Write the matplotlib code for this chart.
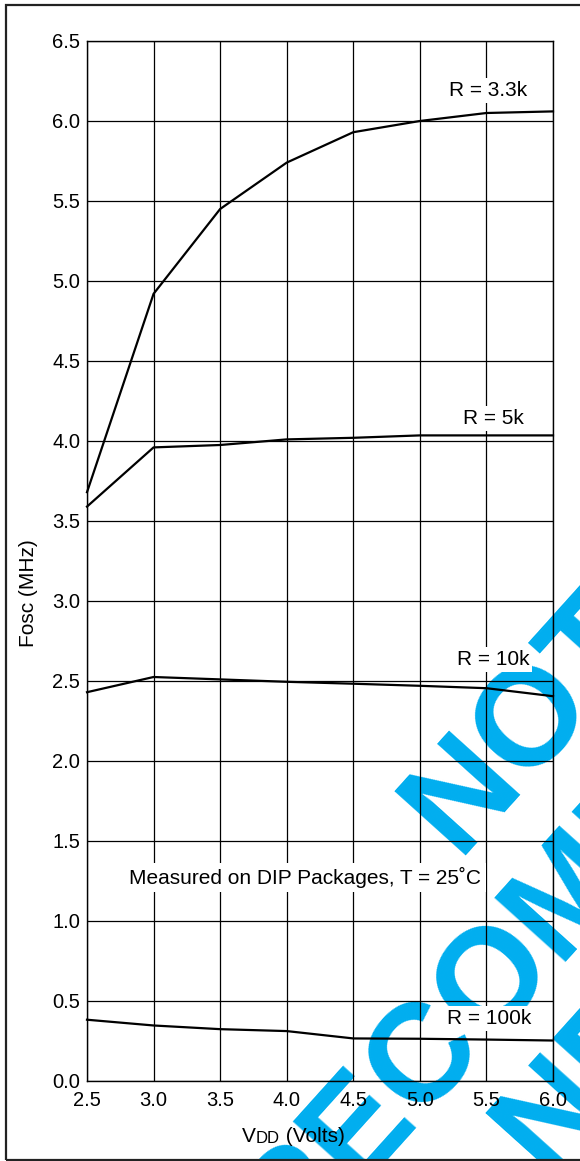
import numpy as np
import matplotlib
matplotlib.use('Agg')
import matplotlib.pyplot as plt
from matplotlib.patches import Rectangle

plt.rcParams['font.family'] = ['Liberation Sans', 'DejaVu Sans']

# data
vdd = [2.5, 3.0, 3.5, 4.0, 4.5, 5.0, 5.5, 6.0]
fosc_3k3 = [3.68, 4.92, 5.45, 5.74, 5.93, 6.00, 6.05, 6.06]
fosc_5k = [3.59, 3.96, 3.975, 4.01, 4.02, 4.035, 4.035, 4.035]
fosc_10k = [2.43, 2.525, 2.51, 2.495, 2.483, 2.47, 2.455, 2.405]
fosc_100k = [0.383, 0.347, 0.324, 0.312, 0.266, 0.264, 0.259, 0.253]
curves = [fosc_3k3, fosc_5k, fosc_10k, fosc_100k]
curve_labels = ['R = 3.3k', 'R = 5k', 'R = 10k', 'R = 100k']
label_x = [5.51, 5.55, 5.55, 5.52]
label_y = [6.19, 4.14, 2.635, 0.39]
yticks = [0.0, 0.5, 1.0, 1.5, 2.0, 2.5, 3.0, 3.5, 4.0, 4.5, 5.0, 5.5, 6.0, 6.5]
note = 'Measured on DIP Packages, T = 25˚C'
watermark = ['NOT', 'RECOMMENDED', 'FOR NEW DESIGNS']

W, H = 580, 1161
fig = plt.figure(figsize=(W / 100, H / 100), dpi=100)
ax = fig.add_axes([87 / W, 1 - 1081 / H, 466 / W, 1040 / H])
ax.set_facecolor('none')

# watermark behind everything
ang = 48
theta = np.deg2rad(ang)
u = np.array([np.cos(theta), -np.sin(theta)])
n = np.array([np.sin(theta), np.cos(theta)])
for i, line in enumerate(watermark):
    p = -183 * u + (912 + 145 * i) * n
    fig.text(p[0] / W, 1 - p[1] / H, line, rotation=ang, rotation_mode='anchor',
             ha='center', va='baseline', fontsize=100, fontweight='bold',
             color='#00aeef', zorder=-1)

for f in curves:
    ax.plot(vdd, f, color='black', lw=1.6, zorder=3, clip_on=False)

for s, x, y in zip(curve_labels, label_x, label_y):
    ax.text(x, y, s, ha='center', va='center', fontsize=15, zorder=5,
            bbox=dict(facecolor='white', edgecolor='none', pad=2))
ax.text(4.14, 1.27, note, ha='center', va='center', fontsize=15, zorder=5,
        bbox=dict(facecolor='white', edgecolor='none', pad=3))

ax.set_xlim(2.5, 6.0)
ax.set_ylim(0, 6.5)
ax.set_xticks(vdd)
ax.set_xticklabels([f'{v:.1f}' for v in vdd])
ax.set_yticks(yticks)
ax.set_yticklabels([f'{v:.1f}' for v in yticks])
ax.tick_params(length=0, labelsize=14.5)
ax.tick_params(axis='y', pad=5)
ax.tick_params(axis='x', pad=7)
ax.grid(True, color='black', lw=0.9)
for sp in ax.spines.values():
    sp.set_linewidth(1.0)

# axis titles
fig.text(28 / W, 1 - 593 / H, 'Fosc (MHz)', rotation=90, ha='center', va='center', fontsize=15)
t_v = fig.text(242 / W, 1 - 1142 / H, 'V', fontsize=15, va='baseline')
t_dd = ax.annotate('DD', xy=(1, 0), xycoords=t_v, fontsize=12, va='bottom')
ax.annotate(' (Volts)', xy=(1, 0), xycoords=t_dd, fontsize=15, va='bottom')

# outer frame
fig.patches.append(Rectangle((5.5 / W, 1 / H), 1.0, 1155 / H, transform=fig.transFigure,
                             fill=False, lw=1.6, ec='#222222'))

fig.savefig('out.png', dpi=100)
